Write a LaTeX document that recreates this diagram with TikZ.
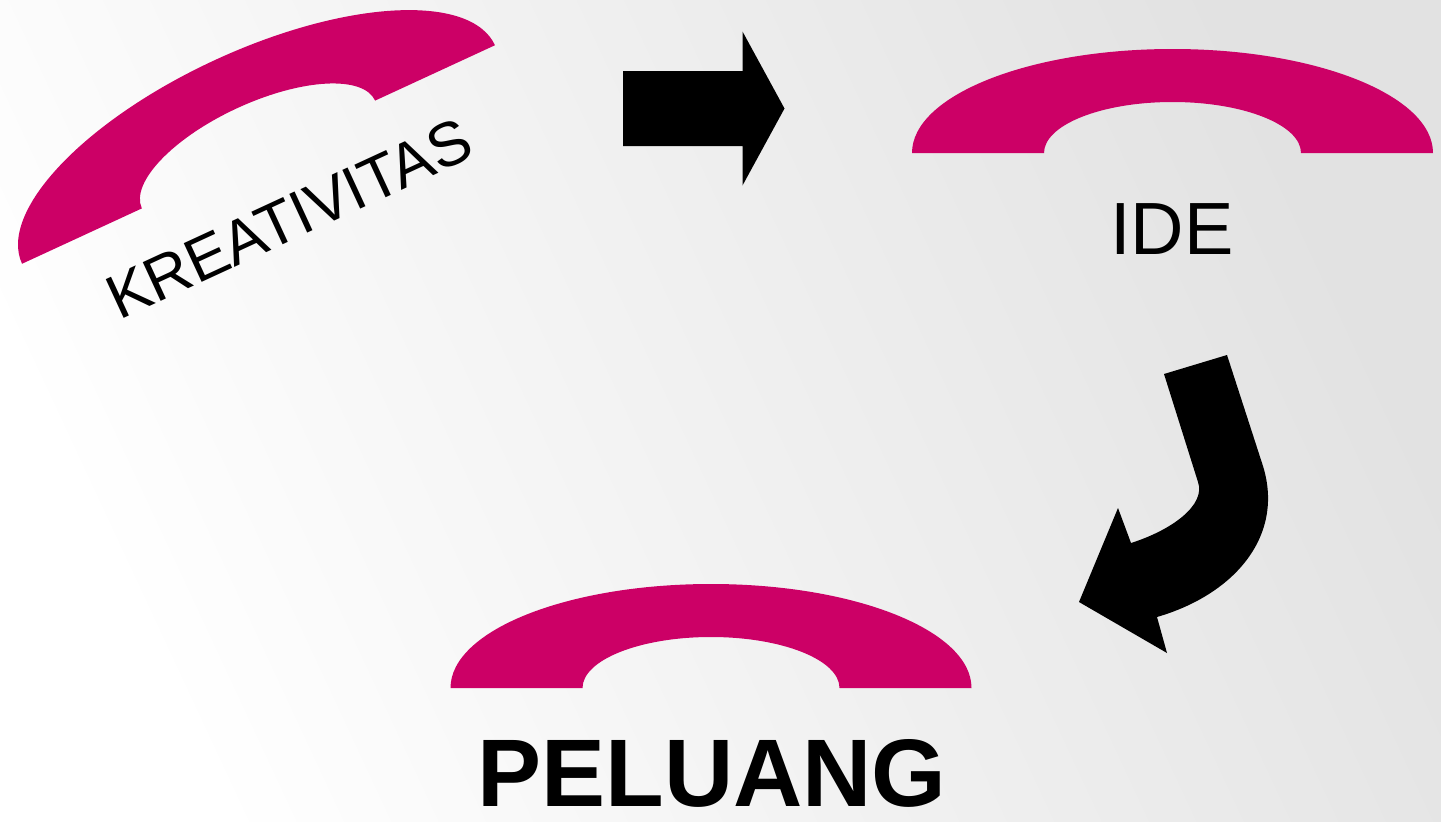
\documentclass[tikz,border=0pt]{standalone}
\usepackage{fontspec}
\setmainfont{Liberation Sans}
\definecolor{archmag}{RGB}{204,0,102}
\definecolor{bgmid}{RGB}{246,246,246}
\definecolor{bgend}{RGB}{226,226,226}
\tikzset{
  arch/.pic={
    \fill[archmag] (-260.5,0)
      arc[start angle=180,end angle=0,x radius=260.5pt,y radius=104pt]
      -- (128.5,0)
      arc[start angle=0,end angle=180,x radius=128.5pt,y radius=51pt]
      -- cycle;
  },
  blockarrow/.style={fill=black},
  wordtext/.style={text=black,inner sep=0pt,anchor=base}
}
\begin{document}
\begin{tikzpicture}[x=1pt,y=-1pt]
\shade[left color=white,middle color=bgmid,right color=bgend,shading angle=115] (0,0) rectangle (1441,822);
\useasboundingbox (0,0) rectangle (1441,822);

% arches
\pic[rotate=24.8] at (258.5,154.5) {arch};
\pic at (1172.5,153) {arch};
\pic at (711,688) {arch};

% labels
\node[wordtext,font=\fontsize{62}{62}\selectfont,rotate=24.8] (kreativitas) at (298,238) {KREATIVITAS};
\node[wordtext,font=\fontsize{74}{74}\selectfont] (ide) at (1172,254) {IDE};
\node[wordtext,font=\bfseries\fontsize{96}{96}\selectfont] (peluang) at (712,806) {PELUANG};

% right block arrow
\fill[blockarrow] (623,71) -- (742.5,71) -- (742.5,31.5) -- (784.5,108.5)
  -- (742.5,185.5) -- (742.5,146) -- (623,146) -- cycle;

% curved block arrow
\fill[blockarrow] (1164,374) -- (1198,482)
  .. controls (1206,505) and (1172,530) .. (1131,543)
  -- (1118,508) -- (1079,602) -- (1167,653) -- (1157,617)
  .. controls (1236,594) and (1286,534) .. (1262,463)
  -- (1227,355) -- cycle;
\end{tikzpicture}
\end{document}
